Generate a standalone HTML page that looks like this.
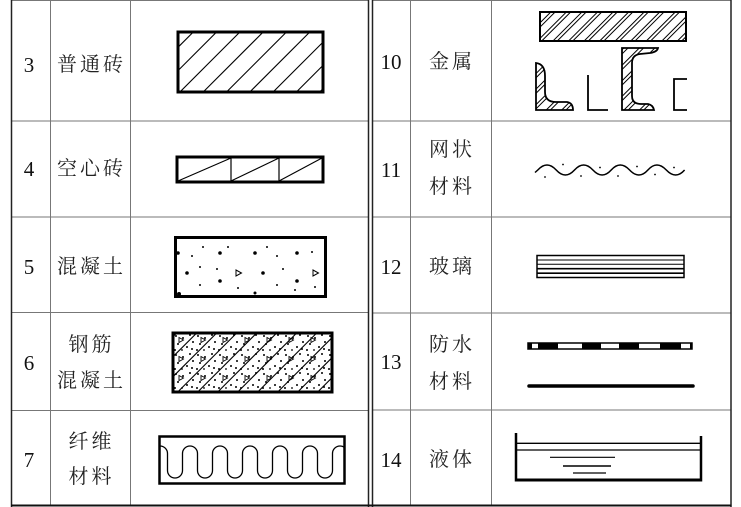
<!DOCTYPE html>
<html><head><meta charset="utf-8"><style>
html,body{margin:0;padding:0;background:#fff;}
svg{display:block;}
.n{font-family:"Liberation Serif","Noto Serif CJK SC",serif;font-size:21px;fill:#111;}
.c{font-family:"Liberation Serif","Noto Serif CJK SC","Noto Sans CJK SC",serif;font-size:20px;fill:#222;letter-spacing:3px;}
</style></head><body>
<svg width="741" height="507" viewBox="0 0 741 507" xmlns="http://www.w3.org/2000/svg">
<defs>
 <clipPath id="cb"><rect x="178" y="32" width="145" height="60"/></clipPath>
 <clipPath id="crc"><rect x="173" y="333" width="159" height="59"/></clipPath>
 <clipPath id="cf"><rect x="159" y="437" width="186" height="47"/></clipPath>
 <pattern id="mh" width="11" height="11" patternUnits="userSpaceOnUse" patternTransform="rotate(45)">
  <line x1="2" y1="-1" x2="2" y2="12" stroke="#000" stroke-width="1"/>
  <line x1="5" y1="-1" x2="5" y2="12" stroke="#000" stroke-width="1"/>
 </pattern>
 <pattern id="rcd" width="22" height="19" patternUnits="userSpaceOnUse" x="173" y="333">
  <circle cx="3" cy="3" r="1"/><circle cx="10" cy="5" r="1"/><circle cx="17" cy="2" r="1"/>
  <circle cx="20" cy="9" r="1"/><circle cx="5" cy="11" r="1"/><circle cx="14" cy="14" r="1"/>
  <circle cx="19" cy="16" r="1"/><circle cx="2" cy="17" r="1"/><circle cx="9" cy="17" r="0.9"/>
  <path d="M6,4.5 L10.5,7 L6,9.5 Z" fill="none" stroke="#000" stroke-width="0.9"/>
 </pattern>
</defs>

<!-- grid -->
<g stroke="#777" stroke-width="1">
 <line x1="11" y1="0.5" x2="368" y2="0.5"/>
 <line x1="11" y1="121" x2="368" y2="121"/>
 <line x1="11" y1="217" x2="368" y2="217"/>
 <line x1="11" y1="312.5" x2="368" y2="312.5"/>
 <line x1="11" y1="410.5" x2="368" y2="410.5"/>
 <line x1="372" y1="0.5" x2="731" y2="0.5"/>
 <line x1="372" y1="121" x2="731" y2="121"/>
 <line x1="372" y1="217" x2="731" y2="217"/>
 <line x1="372" y1="313" x2="731" y2="313"/>
 <line x1="372" y1="410" x2="731" y2="410"/>
 <line x1="50.5" y1="0" x2="50.5" y2="506"/>
 <line x1="130.5" y1="0" x2="130.5" y2="506"/>
 <line x1="410.5" y1="0" x2="410.5" y2="506"/>
 <line x1="491.5" y1="0" x2="491.5" y2="506"/>
</g>
<g stroke="#222" stroke-width="1.5">
 <line x1="11.5" y1="0" x2="11.5" y2="507"/>
 <line x1="368.5" y1="0" x2="368.5" y2="507"/>
 <line x1="372.5" y1="0" x2="372.5" y2="507"/>
 <line x1="731" y1="0" x2="731" y2="507"/>
</g>
<line x1="11" y1="505.5" x2="731.5" y2="505.5" stroke="#111" stroke-width="2"/>

<!-- left texts -->
<g class="n" text-anchor="middle" dominant-baseline="central">
 <text x="29" y="65">3</text>
 <text x="29" y="169">4</text>
 <text x="29" y="267">5</text>
 <text x="29" y="363">6</text>
 <text x="29" y="460">7</text>
 <text x="391" y="62">10</text>
 <text x="391" y="170">11</text>
 <text x="391" y="267">12</text>
 <text x="391" y="362">13</text>
 <text x="391" y="460">14</text>
</g>
<g class="c" text-anchor="middle" dominant-baseline="central">
 <text x="91.5" y="65">普通砖</text>
 <text x="91.5" y="169">空心砖</text>
 <text x="91.5" y="267">混凝土</text>
 <text x="91.5" y="345">钢筋</text>
 <text x="91.5" y="381">混凝土</text>
 <text x="91.5" y="442">纤维</text>
 <text x="91.5" y="477">材料</text>
 <text x="452" y="62">金属</text>
 <text x="452" y="150">网状</text>
 <text x="452" y="187">材料</text>
 <text x="452" y="267">玻璃</text>
 <text x="452" y="345">防水</text>
 <text x="452" y="382">材料</text>
 <text x="452" y="460">液体</text>
</g>

<!-- 3 brick -->
<g clip-path="url(#cb)" stroke="#000" stroke-width="1.1">
 <line x1="193.3" y1="32" x2="133.3" y2="92"/>
 <line x1="216.6" y1="32" x2="156.6" y2="92"/>
 <line x1="239.9" y1="32" x2="179.9" y2="92"/>
 <line x1="263.2" y1="32" x2="203.2" y2="92"/>
 <line x1="286.5" y1="32" x2="226.5" y2="92"/>
 <line x1="309.8" y1="32" x2="249.8" y2="92"/>
 <line x1="333.1" y1="32" x2="273.1" y2="92"/>
 <line x1="356.4" y1="32" x2="296.4" y2="92"/>
 <line x1="379.7" y1="32" x2="319.7" y2="92"/>
</g>
<rect x="178" y="32" width="145" height="60" fill="none" stroke="#000" stroke-width="3"/>

<!-- 4 hollow brick -->
<g stroke="#000" fill="none">
 <rect x="177" y="157" width="146" height="25" stroke-width="3"/>
 <line x1="231" y1="157" x2="231" y2="182" stroke-width="1.2"/>
 <line x1="279" y1="157" x2="279" y2="182" stroke-width="1.2"/>
 <line x1="178" y1="181" x2="231" y2="158" stroke-width="1.1"/>
 <line x1="231" y1="181" x2="279" y2="158" stroke-width="1.1"/>
 <line x1="279" y1="181" x2="322" y2="158" stroke-width="1.1"/>
</g>

<!-- 5 concrete -->
<rect x="175.5" y="237.5" width="150" height="59" fill="none" stroke="#000" stroke-width="3"/>
<g fill="#000">
 <circle cx="178" cy="253" r="1.8"/><circle cx="192" cy="256" r="1"/><circle cx="203" cy="247" r="1"/>
 <circle cx="220" cy="253" r="1.8"/><circle cx="228" cy="247" r="1"/><circle cx="255" cy="253" r="1.8"/>
 <circle cx="267" cy="247" r="1"/><circle cx="277" cy="256" r="1"/><circle cx="297" cy="253" r="1.8"/>
 <circle cx="312" cy="252" r="1"/><circle cx="187" cy="273" r="1.8"/><circle cx="200" cy="267" r="1"/>
 <circle cx="217" cy="269" r="1"/><circle cx="263" cy="273" r="1.8"/><circle cx="283" cy="269" r="1"/>
 <circle cx="220" cy="281" r="1.8"/><circle cx="297" cy="281" r="1.8"/><circle cx="200" cy="285" r="1"/>
 <circle cx="238" cy="288" r="1"/><circle cx="277" cy="285" r="1"/><circle cx="295" cy="290" r="1"/>
 <circle cx="315" cy="287" r="1"/><circle cx="179" cy="294" r="2"/><circle cx="255" cy="293" r="1.5"/>
</g>
<g fill="none" stroke="#000" stroke-width="1">
 <path d="M236,270 L241.5,273 L236,276 Z"/>
 <path d="M313,270 L318.5,273 L313,276 Z"/>
</g>

<!-- 6 reinforced concrete -->
<rect x="173" y="333" width="159" height="59" fill="url(#rcd)"/>
<g clip-path="url(#crc)" stroke="#000" stroke-width="1.1">
 <line x1="176.7" y1="333" x2="117.7" y2="392"/>
 <line x1="196.7" y1="333" x2="137.7" y2="392"/>
 <line x1="216.7" y1="333" x2="157.7" y2="392"/>
 <line x1="236.7" y1="333" x2="177.7" y2="392"/>
 <line x1="256.7" y1="333" x2="197.7" y2="392"/>
 <line x1="276.7" y1="333" x2="217.7" y2="392"/>
 <line x1="296.7" y1="333" x2="237.7" y2="392"/>
 <line x1="316.7" y1="333" x2="257.7" y2="392"/>
 <line x1="336.7" y1="333" x2="277.7" y2="392"/>
 <line x1="356.7" y1="333" x2="297.7" y2="392"/>
 <line x1="376.7" y1="333" x2="317.7" y2="392"/>
</g>
<rect x="173" y="333" width="159" height="59" fill="none" stroke="#000" stroke-width="3"/>

<!-- 7 fiber -->
<g clip-path="url(#cf)">
<path d="M152.5,453.5 A7.5,7.5 0 0 1 167.5,453.5 L167.5,470.5 A7.5,7.5 0 0 0 182.5,470.5 L182.5,453.5 A7.5,7.5 0 0 1 197.5,453.5 L197.5,470.5 A7.5,7.5 0 0 0 212.5,470.5 L212.5,453.5 A7.5,7.5 0 0 1 227.5,453.5 L227.5,470.5 A7.5,7.5 0 0 0 242.5,470.5 L242.5,453.5 A7.5,7.5 0 0 1 257.5,453.5 L257.5,470.5 A7.5,7.5 0 0 0 272.5,470.5 L272.5,453.5 A7.5,7.5 0 0 1 287.5,453.5 L287.5,470.5 A7.5,7.5 0 0 0 302.5,470.5 L302.5,453.5 A7.5,7.5 0 0 1 317.5,453.5 L317.5,470.5 A7.5,7.5 0 0 0 332.5,470.5 L332.5,453.5 A7.5,7.5 0 0 1 347.5,453.5 L347.5,470.5" fill="none" stroke="#000" stroke-width="1.3"/>
</g>
<rect x="159.5" y="436.5" width="185" height="47" fill="none" stroke="#000" stroke-width="2.5"/>

<!-- 10 metal -->
<rect x="540" y="12" width="146" height="29" fill="url(#mh)" stroke="#000" stroke-width="2"/>
<path d="M536,63 Q545,64 545,76 L545,92 Q545,102 556,102 L567,102 Q573,103 573,110 L536,110 Z" fill="url(#mh)" stroke="#000" stroke-width="1.8"/>
<polyline points="588,75 588,110 608,110" fill="none" stroke="#000" stroke-width="1.8"/>
<path d="M622,48 L658,48 Q657,52 650,53 L640,54 Q632,55 632,63 L632,96 Q632,104 641,104 L648,104 Q653,105 654,110 L622,110 Z" fill="url(#mh)" stroke="#000" stroke-width="1.8"/>
<polyline points="687,79 674,79 674,110 687,110" fill="none" stroke="#000" stroke-width="1.8"/>

<!-- 11 mesh -->
<path d="M535,172.5 L537.8,170 Q547,160 556.2,170 T574.5,170 T592.9,170 T611.2,170 T629.6,170 T647.9,170 T666.3,170 T684.6,170" fill="none" stroke="#000" stroke-width="1.5"/>
<g fill="#000">
 <circle cx="563" cy="164.5" r="0.9"/><circle cx="600" cy="167.5" r="0.9"/><circle cx="637" cy="166.5" r="0.9"/><circle cx="674" cy="167.5" r="0.9"/>
 <circle cx="545" cy="177" r="0.9"/><circle cx="581" cy="176" r="0.9"/><circle cx="618" cy="176" r="0.9"/><circle cx="655" cy="174.5" r="0.9"/>
</g>

<!-- 12 glass -->
<rect x="537" y="255.5" width="147" height="22" fill="none" stroke="#000" stroke-width="1.5"/>
<g stroke="#000">
 <line x1="537" y1="260" x2="684" y2="260" stroke-width="1"/>
 <line x1="537" y1="264.3" x2="684" y2="264.3" stroke-width="1"/>
 <line x1="537" y1="268.7" x2="684" y2="268.7" stroke-width="1.7"/>
 <line x1="537" y1="273.2" x2="684" y2="273.2" stroke-width="1.7"/>
</g>

<!-- 13 waterproof -->
<rect x="528" y="343" width="164" height="6" fill="#fff" stroke="#000" stroke-width="1.5"/>
<g fill="#000">
 <rect x="528" y="343" width="4" height="6"/>
 <rect x="538" y="343" width="20" height="6"/>
 <rect x="582" y="343" width="19" height="6"/>
 <rect x="619" y="343" width="20" height="6"/>
 <rect x="660" y="343" width="21" height="6"/>
 <rect x="690" y="343" width="2" height="6"/>
</g>
<line x1="529" y1="386" x2="693" y2="386" stroke="#000" stroke-width="3.5" stroke-linecap="round"/>

<!-- 14 liquid -->
<g stroke="#000">
 <line x1="516" y1="433" x2="516" y2="481.5" stroke-width="2.5"/>
 <line x1="701" y1="436" x2="701" y2="481.5" stroke-width="2.5"/>
 <line x1="515" y1="480" x2="702" y2="480" stroke-width="3"/>
 <line x1="516" y1="443.3" x2="701" y2="443.3" stroke-width="1.3"/>
 <line x1="516" y1="450" x2="701" y2="450" stroke-width="1.3"/>
 <line x1="550" y1="457.3" x2="615" y2="457.3" stroke-width="1.2"/>
 <line x1="563" y1="466" x2="611" y2="466" stroke-width="1.6"/>
 <line x1="573" y1="473" x2="606" y2="473" stroke-width="1.2"/>
</g>
</svg>
</body></html>
